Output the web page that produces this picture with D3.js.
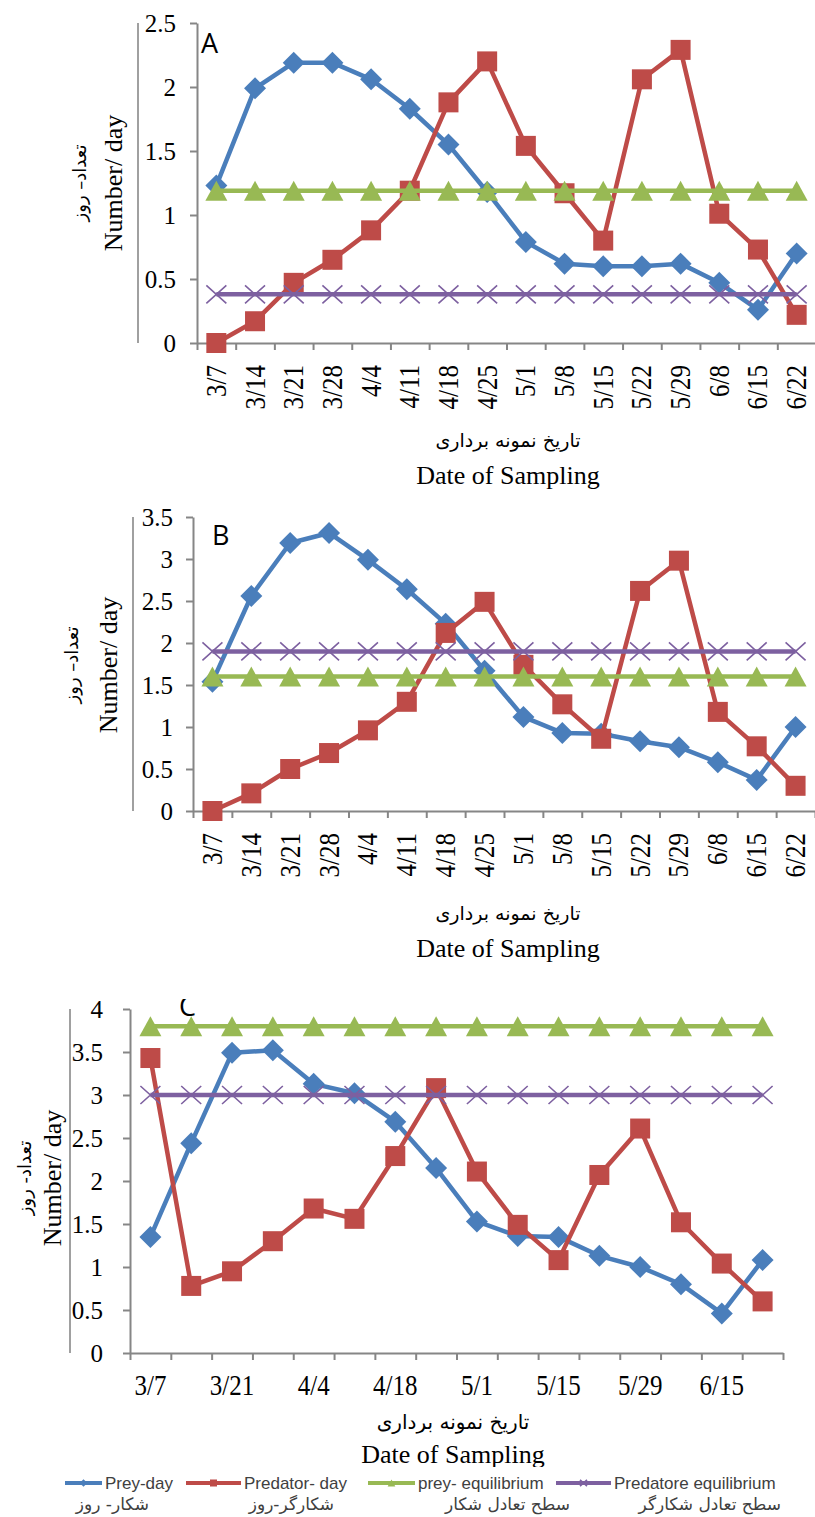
<!DOCTYPE html>
<html>
  <head>
    <meta charset="utf-8">
    <style>
      html, body {
        margin: 0px;
        padding: 0px;
        background: #fff;
      }
      svg {
        display: block;
      }
      .serif {
        font-family: "Liberation Serif", "Times New Roman", serif;
      }
      .fa {
        font-family: "DejaVu Sans", sans-serif;
      }
    </style>
  </head>
  <body>
    <svg id="chart" width="815" height="1517"></svg>
    <script src="https://cdnjs.cloudflare.com/ajax/libs/d3/7.8.5/d3.min.js" charset="utf-8"></script>
    <script>
      // sampling dates (same for all three panels)
      var dates = ["3/7", "3/14", "3/21", "3/28", "4/4", "4/11", "4/18", "4/25",
                   "5/1", "5/8", "5/15", "5/22", "5/29", "6/8", "6/15", "6/22"];
      // panel C only labels every other date
      var datesShownC = ["3/7", "3/21", "4/4", "4/18", "5/1", "5/15", "5/29", "6/15"];

      // panel A
      var preyA   = [1.23, 1.99, 2.19, 2.19, 2.06, 1.83, 1.55, 1.18, 0.79, 0.62, 0.60, 0.60, 0.62, 0.47, 0.26, 0.70];
      var predA   = [0.00, 0.17, 0.47, 0.65, 0.88, 1.19, 1.88, 2.20, 1.54, 1.17, 0.80, 2.06, 2.29, 1.01, 0.73, 0.22];
      var preyEqA = [1.19, 1.19, 1.19, 1.19, 1.19, 1.19, 1.19, 1.19, 1.19, 1.19, 1.19, 1.19, 1.19, 1.19, 1.19, 1.19];
      var predEqA = [0.38, 0.38, 0.38, 0.38, 0.38, 0.38, 0.38, 0.38, 0.38, 0.38, 0.38, 0.38, 0.38, 0.38, 0.38, 0.38];
      var yTicksA = [0, 0.5, 1, 1.5, 2, 2.5];

      // panel B
      var preyB   = [1.54, 2.56, 3.19, 3.31, 2.99, 2.64, 2.23, 1.67, 1.12, 0.93, 0.92, 0.83, 0.76, 0.58, 0.37, 1.00];
      var predB   = [0.00, 0.21, 0.50, 0.69, 0.96, 1.30, 2.12, 2.49, 1.74, 1.27, 0.86, 2.62, 2.98, 1.18, 0.77, 0.30];
      var preyEqB = [1.60, 1.60, 1.60, 1.60, 1.60, 1.60, 1.60, 1.60, 1.60, 1.60, 1.60, 1.60, 1.60, 1.60, 1.60, 1.60];
      var predEqB = [1.90, 1.90, 1.90, 1.90, 1.90, 1.90, 1.90, 1.90, 1.90, 1.90, 1.90, 1.90, 1.90, 1.90, 1.90, 1.90];
      var yTicksB = [0, 0.5, 1, 1.5, 2, 2.5, 3, 3.5];

      // panel C
      var preyC   = [1.35, 2.44, 3.49, 3.52, 3.13, 3.02, 2.69, 2.15, 1.53, 1.36, 1.35, 1.13, 1.00, 0.80, 0.46, 1.08];
      var predC   = [3.43, 0.78, 0.95, 1.30, 1.68, 1.56, 2.29, 3.08, 2.11, 1.49, 1.08, 2.07, 2.61, 1.52, 1.04, 0.60];
      var preyEqC = [3.80, 3.80, 3.80, 3.80, 3.80, 3.80, 3.80, 3.80, 3.80, 3.80, 3.80, 3.80, 3.80, 3.80, 3.80, 3.80];
      var predEqC = [3.00, 3.00, 3.00, 3.00, 3.00, 3.00, 3.00, 3.00, 3.00, 3.00, 3.00, 3.00, 3.00, 3.00, 3.00, 3.00];
      var yTicksC = [0, 0.5, 1, 1.5, 2, 2.5, 3, 3.5, 4];

      var seriesNames = ["Prey-day", "Predator- day", "prey- equilibrium", "Predatore equilibrium"];
      var seriesNamesFa = ["شکار- روز", "شکارگر-روز", "سطح تعادل شکار", "سطح تعادل شکارگر"];

      var colors = ["#4a7ebb", "#be4b48", "#98b954", "#7d60a0"];
      var shapes = ["diamond", "square", "triangle", "cross"];
      var axisGray = "#868686";

      var svg = d3.select("#chart");
      svg.append("rect").attr("width", 815).attr("height", 1517).attr("fill", "#fff");

      function marker(g, shape, color, s) {
        if (shape == "diamond") {
          var d = s * 1.1;
          g.append("path").attr("d", "M0," + (-d) + "L" + d + ",0L0," + d + "L" + (-d) + ",0Z").attr("fill", color);
        } else if (shape == "square") {
          g.append("rect").attr("x", -s).attr("y", -s).attr("width", 2 * s).attr("height", 2 * s).attr("fill", color);
        } else if (shape == "triangle") {
          g.append("path").attr("d", "M0," + (-s) + "L" + (s * 1.1) + "," + s + "L" + (-s * 1.1) + "," + s + "Z").attr("fill", color);
        } else {
          var h = s * 0.9;
          g.append("path").attr("d", "M" + (-s) + "," + (-h) + "L" + s + "," + h + "M" + s + "," + (-h) + "L" + (-s) + "," + h)
            .attr("stroke", color).attr("stroke-width", 1.6).attr("fill", "none");
        }
      }

      function drawPanel(p) {
        var x = d3.scaleBand().domain(dates).range([p.x0, p.x1]);
        var cx = function(d) { return x(d) + x.bandwidth() / 2; };
        var y = d3.scaleLinear().domain([0, p.max]).range([p.yBot, p.yTop]);

        // grey bar left of the axis title
        svg.append("line")
          .attr("x1", p.barX).attr("x2", p.barX)
          .attr("y1", p.yTop).attr("y2", p.yBot)
          .attr("stroke", "#a0a0a0").attr("stroke-width", 2);

        var ya = svg.append("g")
          .attr("transform", "translate(" + p.x0 + ",0)")
          .call(d3.axisLeft(y).tickValues(p.yTicks).tickFormat(function(d) { return d; })
            .tickSize(7).tickSizeOuter(0).tickPadding(p.tickPad));
        ya.select(".domain").attr("stroke", axisGray).attr("stroke-width", 2);
        ya.selectAll(".tick line").attr("stroke", axisGray).attr("stroke-width", 2);
        ya.selectAll(".tick text").attr("class", "serif").attr("font-size", 25).attr("fill", "#000");

        // category axis: ticks between categories
        var xb = d3.scaleLinear().domain([0, dates.length]).range([p.x0, p.x1]);
        var xa = svg.append("g")
          .attr("transform", "translate(0," + p.yBot + ")")
          .call(d3.axisBottom(xb).tickValues(d3.range(dates.length + 1)).tickFormat("").tickSize(7).tickSizeOuter(0));
        xa.select(".domain").attr("stroke", axisGray).attr("stroke-width", 2);
        xa.selectAll(".tick line").attr("stroke", axisGray).attr("stroke-width", 2);

        if (p.rotated) {
          svg.append("g").selectAll("text").data(dates).enter().append("text")
            .attr("class", "serif").attr("font-size", 25).attr("text-anchor", "end")
            .attr("dy", "0.33em")
            .attr("transform", function(d) { return "translate(" + cx(d) + "," + (p.yBot + 22) + ") rotate(-90) scale(1,1.15)"; })
            .text(function(d) { return d; });
        } else {
          svg.append("g").selectAll("text").data(datesShownC).enter().append("text")
            .attr("class", "serif").attr("font-size", 25).attr("text-anchor", "middle")
            .attr("transform", function(d) { return "translate(" + cx(d) + "," + (p.yBot + 42) + ") scale(1,1.15)"; })
            .text(function(d) { return d; });
        }

        // axis titles
        svg.append("text").attr("class", "fa").attr("font-size", p.faSize).attr("text-anchor", "middle")
          .attr("x", p.xTitleX).attr("y", p.xTitleFaY).text("تاریخ نمونه برداری");
        svg.append("text").attr("class", "serif").attr("font-size", 26).attr("text-anchor", "middle")
          .attr("x", p.xTitleX).attr("y", p.xTitleY).text("Date of Sampling");
        svg.append("text").attr("class", "serif").attr("font-size", 26).attr("text-anchor", "middle")
          .attr("transform", "translate(" + p.yTitleX + "," + p.yTitleY + ") rotate(-90)").text("Number/ day");
        svg.append("text").attr("class", "fa").attr("font-size", 18).attr("text-anchor", "middle")
          .attr("transform", "translate(" + p.yTitleFaX + "," + p.yTitleY + ") rotate(-90)").text(p.faY);

        // series
        var line = d3.line()
          .x(function(d, i) { return cx(dates[i]); })
          .y(function(d) { return y(d); });
        p.series.forEach(function(vals, k) {
          var g = svg.append("g");
          g.append("path").datum(vals).attr("d", line)
            .attr("fill", "none").attr("stroke", colors[k]).attr("stroke-width", 4.5)
            .attr("stroke-linejoin", "round");
          vals.forEach(function(v, i) {
            var m = g.append("g").attr("transform", "translate(" + cx(dates[i]) + "," + y(v) + ")");
            marker(m, shapes[k], colors[k], 10);
          });
        });

        // panel letter
        var letter = svg.append("text")
          .attr("font-family", "'Open Sans', 'Liberation Sans', sans-serif").attr("font-size", 27)
          .attr("x", p.letterX).attr("y", p.letterY).text(p.letter);
        if (p.clipTop) {
          svg.append("clipPath").attr("id", "clip" + p.letter)
            .append("rect").attr("x", 0).attr("y", p.clipTop).attr("width", 815).attr("height", 200);
          letter.attr("clip-path", "url(#clip" + p.letter + ")");
        }
      }

      drawPanel({
        x0: 197, x1: 816, yTop: 23, yBot: 343, max: 2.5, yTicks: yTicksA, tickPad: 14,
        barX: 138, rotated: true,
        xTitleX: 508, xTitleFaY: 447, xTitleY: 484, faSize: 19,
        yTitleX: 122, yTitleFaX: 86, yTitleY: 183, faY: "تعداد– روز",
        series: [preyA, predA, preyEqA, predEqA],
        letter: "A", letterX: 201, letterY: 53
      });
      drawPanel({
        x0: 193, x1: 815, yTop: 517, yBot: 811, max: 3.5, yTicks: yTicksB, tickPad: 13,
        barX: 133, rotated: true,
        xTitleX: 508, xTitleFaY: 920, xTitleY: 957, faSize: 19,
        yTitleX: 117, yTitleFaX: 78, yTitleY: 665, faY: "تعداد– روز",
        series: [preyB, predB, preyEqB, predEqB],
        letter: "B", letterX: 212, letterY: 545
      });
      drawPanel({
        x0: 130, x1: 783, yTop: 1009, yBot: 1353, max: 4, yTicks: yTicksC, tickPad: 20,
        barX: 70, rotated: false,
        xTitleX: 453, xTitleFaY: 1429, xTitleY: 1463, faSize: 20,
        yTitleX: 61, yTitleFaX: 31, yTitleY: 1178, faY: "تعداد- روز",
        series: [preyC, predC, preyEqC, predEqC],
        letter: "C", letterX: 179, letterY: 1016, clipTop: 999
      });

      // legend (covers the bottom of the last axis title like in the original)
      var legend = svg.append("g");
      legend.append("rect").attr("x", 0).attr("y", 1467).attr("width", 815).attr("height", 50).attr("fill", "#fff");
      var legX = [65, 186, 368, 556];
      var legW = [37, 55, 47, 55];
      var faX = [149, 334, 570, 781];
      seriesNames.forEach(function(name, k) {
        legend.append("line").attr("x1", legX[k]).attr("x2", legX[k] + legW[k])
          .attr("y1", 1483).attr("y2", 1483).attr("stroke", colors[k]).attr("stroke-width", 4);
        var m = legend.append("g").attr("transform", "translate(" + (legX[k] + legW[k] / 2) + ",1483)");
        marker(m, shapes[k], colors[k], 3.5);
        legend.append("text").attr("font-family", "'Liberation Sans Narrow', 'Liberation Sans', sans-serif")
          .attr("font-size", 17).attr("fill", "#404040")
          .attr("x", legX[k] + legW[k] + 3).attr("y", 1489).text(name);
        legend.append("text").attr("class", "fa").attr("font-size", 17).attr("fill", "#404040")
          .attr("text-anchor", "start").attr("direction", "rtl")
          .attr("x", faX[k]).attr("y", 1510).text(seriesNamesFa[k]);
      });
    </script>
  </body>
</html>
